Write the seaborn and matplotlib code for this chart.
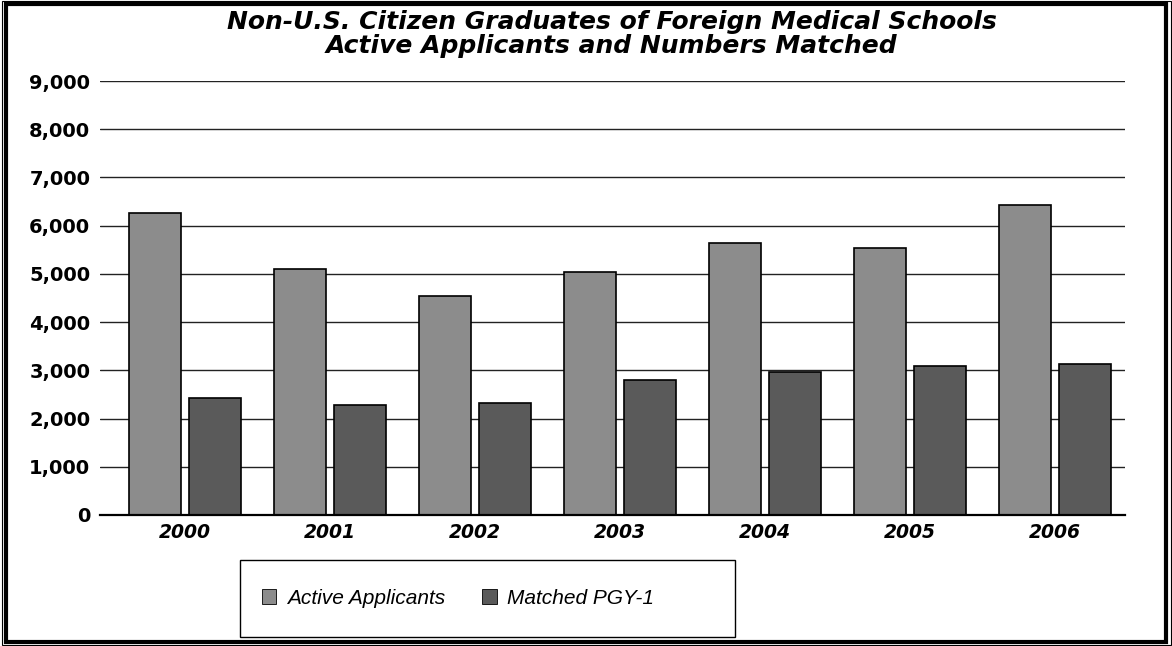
import pandas as pd
import seaborn as sns
import matplotlib
matplotlib.use('Agg')
import matplotlib.pyplot as plt
from matplotlib.patches import Rectangle, Patch
from matplotlib.ticker import FuncFormatter

years = ['2000', '2001', '2002', '2003', '2004', '2005', '2006']
active = [6270, 5100, 4540, 5030, 5650, 5530, 6430]
matched = [2420, 2280, 2320, 2800, 2970, 3100, 3130]
series = ['Active Applicants', 'Matched PGY-1']
colors = ['#8c8c8c', '#5a5a5a']
title1 = 'Non-U.S. Citizen Graduates of Foreign Medical Schools'
title2 = 'Active Applicants and Numbers Matched'

df = pd.DataFrame({
    'year': years * 2,
    'count': active + matched,
    'series': [series[0]] * len(years) + [series[1]] * len(years),
})

sns.set_style('white')
plt.rcParams['text.color'] = 'black'
plt.rcParams['xtick.color'] = 'black'
plt.rcParams['ytick.color'] = 'black'
W, H = 1172, 646
fig = plt.figure(figsize=(W / 100, H / 100), dpi=100)
ax = fig.add_axes([100 / W, 1 - 515 / H, 1025 / W, 434 / H])

sns.barplot(data=df, x='year', y='count', hue='series', palette=colors,
            width=0.82, gap=0.13, edgecolor='black', linewidth=1.2,
            saturation=1, errorbar=None, legend=False, ax=ax)

ax.set_axisbelow(True)
ax.yaxis.grid(True, color='#222222', lw=1)
ax.set_ylim(0, 9000)
ax.set_yticks(range(0, 9001, 1000))
ax.yaxis.set_major_formatter(FuncFormatter(lambda v, p: f'{int(v):,}'))
ax.set_xlim(-0.586, 6.483)
for s in ['left', 'top', 'right']:
    ax.spines[s].set_visible(False)
ax.spines['bottom'].set_color('black')
ax.spines['bottom'].set_linewidth(1.6)
ax.set_xlabel('')
ax.set_ylabel('')
ax.tick_params(axis='y', length=0, pad=7, labelcolor='black')
ax.tick_params(axis='x', length=0, pad=6, labelcolor='black')
for lab in ax.get_yticklabels():
    lab.set_fontfamily('DejaVu Sans')
    lab.set_fontweight('bold')
    lab.set_fontsize(14)
for lab in ax.get_xticklabels():
    lab.set_fontfamily('DejaVu Sans')
    lab.set_fontweight('bold')
    lab.set_fontstyle('italic')
    lab.set_fontsize(13.5)

fig.text(612 / W, 1 - 22 / H, title1, ha='center', va='center', color='black',
         fontsize=18, fontweight='bold', fontstyle='italic', family='DejaVu Sans')
fig.text(611 / W, 1 - 46 / H, title2, ha='center', va='center', color='black',
         fontsize=18, fontweight='bold', fontstyle='italic', family='DejaVu Sans')

handles = [Patch(facecolor=c, edgecolor='black', lw=0.6) for c in colors]
fig.legend(handles, series, loc='center', bbox_to_anchor=(458 / W, 1 - 598 / H),
           ncol=2, frameon=False, handlelength=0.7, handleheight=0.7,
           handletextpad=0.5, columnspacing=1.8, labelcolor='black',
           prop={'family': 'Liberation Sans', 'style': 'italic', 'size': 15})

# legend box and page frame
fig.add_artist(Rectangle((240 / W, 1 - 637 / H), 495 / W, 77 / H, transform=fig.transFigure,
                         fill=False, ec='black', lw=1))
fig.add_artist(Rectangle((6 / W, 4 / H), 1160 / W, 638 / H, transform=fig.transFigure,
                         fill=False, ec='black', lw=3))
fig.add_artist(Rectangle((1.5 / W, 1 / H), 1169 / W, 644 / H, transform=fig.transFigure,
                         fill=False, ec='black', lw=0.8))

fig.savefig('out.png', dpi=100)
